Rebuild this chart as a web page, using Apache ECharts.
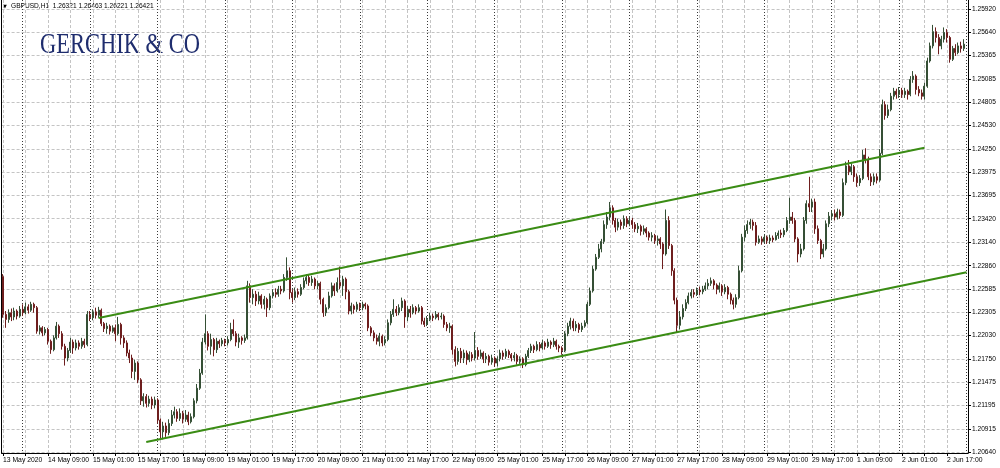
<!DOCTYPE html>
<html><head><meta charset="utf-8">
<script src="https://cdn.jsdelivr.net/npm/echarts/dist/echarts.min.js"></script>
<style>html,body{margin:0;padding:0;background:#fff}#c{width:1000px;height:468px}</style>
</head><body><div id="c"></div><script>
// trading days shown (hourly bars, weekends skipped); first bar 13 May 17:00
const tradingDays = ['13 May','14 May','15 May','18 May','19 May','20 May','21 May','22 May','25 May','26 May','27 May','28 May','29 May','1 Jun','2 Jun','3 Jun'];
const timeLabels = ['13 May 2020','14 May 09:00','15 May 01:00','15 May 17:00','18 May 09:00','19 May 01:00','19 May 17:00','20 May 09:00','21 May 01:00','21 May 17:00','22 May 09:00','25 May 01:00','25 May 17:00','26 May 09:00','27 May 01:00','27 May 17:00','28 May 09:00','29 May 01:00','29 May 17:00','1 Jun 09:00','2 Jun 01:00','2 Jun 17:00'];
const priceTicks = [1.20640,1.20915,1.21195,1.21475,1.21750,1.22030,1.22305,1.22585,1.22860,1.23140,1.23420,1.23695,1.23975,1.24250,1.24530,1.24805,1.25085,1.25365,1.25640,1.25920];
const headerText = 'GBPUSD,H1  1.26321 1.26463 1.26221 1.26421';
const logoText = 'GERCHIK & CO';

const opens = [1.2273,1.2228,1.2222,1.2230,1.2225,1.2232,1.2226,1.2234,1.2230,1.2237,
1.2233,1.2240,1.2236,1.2208,1.2212,1.2206,1.2210,1.2196,1.2186,1.2200,
1.2214,1.2205,1.2190,1.2176,1.2185,1.2195,1.2188,1.2194,1.2190,1.2196,
1.2192,1.2228,1.2224,1.2231,1.2227,1.2233,1.2217,1.2211,1.2214,1.2208,
1.2212,1.2205,1.2216,1.2200,1.2194,1.2182,1.2176,1.2160,1.2170,1.2150,
1.2125,1.2130,1.2122,1.2127,1.2120,1.2126,1.2102,1.2088,1.2095,1.2087,
1.2098,1.2108,1.2112,1.2104,1.2110,1.2103,1.2108,1.2100,1.2106,1.2125,
1.2140,1.2158,1.2195,1.2205,1.2190,1.2198,1.2186,1.2196,1.2193,1.2197,
1.2194,1.2198,1.2210,1.2205,1.2195,1.2200,1.2197,1.2200,1.2262,1.2248,
1.2252,1.2244,1.2250,1.2240,1.2246,1.2236,1.2250,1.2254,1.2252,1.2258,
1.2256,1.2272,1.2280,1.2254,1.2248,1.2255,1.2252,1.2260,1.2268,1.2272,
1.2266,1.2270,1.2262,1.2265,1.2246,1.2230,1.2236,1.2250,1.2262,1.2256,
1.2266,1.2262,1.2270,1.2255,1.2232,1.2238,1.2234,1.2240,1.2236,1.2240,
1.2238,1.2212,1.2206,1.2200,1.2196,1.2202,1.2194,1.2198,1.2218,1.2228,
1.2234,1.2230,1.2236,1.2244,1.2225,1.2234,1.2230,1.2236,1.2232,1.2236,
1.2220,1.2216,1.2222,1.2226,1.2224,1.2228,1.2225,1.2226,1.2216,1.2212,
1.2214,1.2186,1.2172,1.2184,1.2176,1.2182,1.2174,1.2180,1.2176,1.2185,
1.2178,1.2182,1.2175,1.2178,1.2171,1.2176,1.2170,1.2175,1.2182,1.2178,
1.2184,1.2180,1.2176,1.2179,1.2172,1.2175,1.2168,1.2178,1.2185,1.2190,
1.2186,1.2192,1.2188,1.2194,1.2190,1.2195,1.2192,1.2196,1.2190,1.2188,
1.2185,1.2205,1.2214,1.2220,1.2212,1.2216,1.2210,1.2214,1.2218,1.2240,
1.2256,1.2282,1.2296,1.2306,1.2315,1.2335,1.2344,1.2355,1.2340,1.2332,
1.2338,1.2334,1.2342,1.2336,1.2340,1.2335,1.2330,1.2333,1.2327,1.2330,
1.2325,1.2320,1.2322,1.2316,1.2318,1.2312,1.2300,1.2340,1.2310,1.2280,
1.2245,1.2215,1.2225,1.2235,1.2242,1.2250,1.2254,1.2252,1.2257,1.2255,
1.2258,1.2262,1.2265,1.2268,1.2263,1.2258,1.2262,1.2255,1.2260,1.2252,
1.2245,1.2240,1.2248,1.2280,1.2320,1.2328,1.2335,1.2338,1.2334,1.2314,
1.2318,1.2315,1.2320,1.2316,1.2319,1.2317,1.2322,1.2325,1.2323,1.2328,
1.2340,1.2344,1.2340,1.2318,1.2300,1.2306,1.2340,1.2360,1.2356,1.2362,
1.2330,1.2316,1.2300,1.2306,1.2336,1.2345,1.2348,1.2344,1.2350,1.2346,
1.2385,1.2405,1.2398,1.2404,1.2392,1.2385,1.2390,1.2418,1.2412,1.2392,
1.2386,1.2392,1.2388,1.2420,1.2478,1.2465,1.2472,1.2488,1.2494,1.2490,
1.2495,1.2490,1.2494,1.2490,1.2508,1.2512,1.2496,1.2492,1.2488,1.2500,
1.2530,1.2548,1.2565,1.2558,1.2548,1.2556,1.2564,1.2558,1.2532,1.2545,
1.2540,1.2548,1.2545];
const closes = [1.2228,1.2222,1.2230,1.2225,1.2232,1.2226,1.2234,1.2230,1.2237,1.2233,
1.2240,1.2236,1.2208,1.2212,1.2206,1.2210,1.2196,1.2186,1.2200,1.2214,
1.2205,1.2190,1.2176,1.2185,1.2195,1.2188,1.2194,1.2190,1.2196,1.2192,
1.2228,1.2224,1.2231,1.2227,1.2233,1.2217,1.2211,1.2214,1.2208,1.2212,
1.2205,1.2216,1.2200,1.2194,1.2182,1.2176,1.2160,1.2170,1.2150,1.2125,
1.2130,1.2122,1.2127,1.2120,1.2126,1.2102,1.2088,1.2095,1.2087,1.2098,
1.2108,1.2112,1.2104,1.2110,1.2103,1.2108,1.2100,1.2106,1.2125,1.2140,
1.2158,1.2195,1.2205,1.2190,1.2198,1.2186,1.2196,1.2193,1.2197,1.2194,
1.2198,1.2210,1.2205,1.2195,1.2200,1.2197,1.2200,1.2262,1.2248,1.2252,
1.2244,1.2250,1.2240,1.2246,1.2236,1.2250,1.2254,1.2252,1.2258,1.2256,
1.2272,1.2280,1.2254,1.2248,1.2255,1.2252,1.2260,1.2268,1.2272,1.2266,
1.2270,1.2262,1.2265,1.2246,1.2230,1.2236,1.2250,1.2262,1.2256,1.2266,
1.2262,1.2270,1.2255,1.2232,1.2238,1.2234,1.2240,1.2236,1.2240,1.2238,
1.2212,1.2206,1.2200,1.2196,1.2202,1.2194,1.2198,1.2218,1.2228,1.2234,
1.2230,1.2236,1.2244,1.2225,1.2234,1.2230,1.2236,1.2232,1.2236,1.2220,
1.2216,1.2222,1.2226,1.2224,1.2228,1.2225,1.2226,1.2216,1.2212,1.2214,
1.2186,1.2172,1.2184,1.2176,1.2182,1.2174,1.2180,1.2176,1.2185,1.2178,
1.2182,1.2175,1.2178,1.2171,1.2176,1.2170,1.2175,1.2182,1.2178,1.2184,
1.2180,1.2176,1.2179,1.2172,1.2175,1.2168,1.2178,1.2185,1.2190,1.2186,
1.2192,1.2188,1.2194,1.2190,1.2195,1.2192,1.2196,1.2190,1.2188,1.2185,
1.2205,1.2214,1.2220,1.2212,1.2216,1.2210,1.2214,1.2218,1.2240,1.2256,
1.2282,1.2296,1.2306,1.2315,1.2335,1.2344,1.2355,1.2340,1.2332,1.2338,
1.2334,1.2342,1.2336,1.2340,1.2335,1.2330,1.2333,1.2327,1.2330,1.2325,
1.2320,1.2322,1.2316,1.2318,1.2312,1.2300,1.2340,1.2310,1.2280,1.2245,
1.2215,1.2225,1.2235,1.2242,1.2250,1.2254,1.2252,1.2257,1.2255,1.2258,
1.2262,1.2265,1.2268,1.2263,1.2258,1.2262,1.2255,1.2260,1.2252,1.2245,
1.2240,1.2248,1.2280,1.2320,1.2328,1.2335,1.2338,1.2334,1.2314,1.2318,
1.2315,1.2320,1.2316,1.2319,1.2317,1.2322,1.2325,1.2323,1.2328,1.2340,
1.2344,1.2340,1.2318,1.2300,1.2306,1.2340,1.2360,1.2356,1.2362,1.2330,
1.2316,1.2300,1.2306,1.2336,1.2345,1.2348,1.2344,1.2350,1.2346,1.2385,
1.2405,1.2398,1.2404,1.2392,1.2385,1.2390,1.2418,1.2412,1.2392,1.2386,
1.2392,1.2388,1.2420,1.2478,1.2465,1.2472,1.2488,1.2494,1.2490,1.2495,
1.2490,1.2494,1.2490,1.2508,1.2512,1.2496,1.2492,1.2488,1.2500,1.2530,
1.2548,1.2565,1.2558,1.2548,1.2556,1.2564,1.2558,1.2532,1.2545,1.2540,
1.2548,1.2545,1.2550];
const lows = [1.2224,1.2212,1.2218,1.2220,1.2221,1.2222,1.2224,1.2226,1.2228,1.2229,
1.2231,1.2230,1.2205,1.2204,1.2202,1.2203,1.2192,1.2181,1.2184,1.2198,
1.2200,1.2186,1.2167,1.2172,1.2182,1.2181,1.2185,1.2186,1.2187,1.2188,
1.2190,1.2220,1.2221,1.2223,1.2224,1.2214,1.2207,1.2205,1.2204,1.2206,
1.2196,1.2203,1.2192,1.2188,1.2178,1.2170,1.2152,1.2150,1.2146,1.2120,
1.2118,1.2117,1.2118,1.2115,1.2116,1.2098,1.2080,1.2079,1.2082,1.2084,
1.2095,1.2104,1.2100,1.2101,1.2098,1.2100,1.2096,1.2098,1.2104,1.2122,
1.2138,1.2156,1.2192,1.2185,1.2180,1.2178,1.2182,1.2188,1.2190,1.2190,
1.2191,1.2196,1.2202,1.2190,1.2188,1.2192,1.2194,1.2198,1.2242,1.2240,
1.2238,1.2240,1.2235,1.2234,1.2225,1.2233,1.2247,1.2248,1.2249,1.2252,
1.2254,1.2268,1.2246,1.2242,1.2245,1.2248,1.2250,1.2258,1.2264,1.2262,
1.2262,1.2258,1.2258,1.2240,1.2225,1.2226,1.2234,1.2248,1.2250,1.2254,
1.2258,1.2250,1.2246,1.2228,1.2228,1.2229,1.2231,1.2232,1.2233,1.2234,
1.2208,1.2202,1.2196,1.2192,1.2190,1.2190,1.2191,1.2196,1.2215,1.2225,
1.2226,1.2227,1.2232,1.2212,1.2220,1.2224,1.2228,1.2228,1.2230,1.2216,
1.2213,1.2214,1.2220,1.2220,1.2222,1.2221,1.2222,1.2212,1.2208,1.2206,
1.2180,1.2166,1.2168,1.2170,1.2170,1.2168,1.2171,1.2172,1.2173,1.2174,
1.2175,1.2170,1.2170,1.2167,1.2168,1.2166,1.2166,1.2172,1.2174,1.2175,
1.2176,1.2172,1.2172,1.2168,1.2169,1.2164,1.2166,1.2176,1.2182,1.2182,
1.2184,1.2184,1.2186,1.2186,1.2188,1.2187,1.2189,1.2186,1.2183,1.2180,
1.2183,1.2202,1.2210,1.2208,1.2208,1.2206,1.2207,1.2212,1.2216,1.2238,
1.2254,1.2280,1.2294,1.2302,1.2312,1.2330,1.2340,1.2335,1.2326,1.2328,
1.2329,1.2330,1.2332,1.2333,1.2330,1.2326,1.2325,1.2322,1.2323,1.2320,
1.2316,1.2315,1.2312,1.2310,1.2306,1.2282,1.2298,1.2306,1.2274,1.2240,
1.2206,1.2210,1.2222,1.2232,1.2240,1.2247,1.2248,1.2250,1.2251,1.2252,
1.2256,1.2258,1.2262,1.2258,1.2252,1.2254,1.2250,1.2252,1.2246,1.2240,
1.2234,1.2236,1.2246,1.2278,1.2315,1.2324,1.2330,1.2328,1.2310,1.2312,
1.2311,1.2313,1.2312,1.2312,1.2314,1.2316,1.2318,1.2319,1.2320,1.2326,
1.2336,1.2336,1.2314,1.2290,1.2296,1.2304,1.2336,1.2350,1.2350,1.2324,
1.2312,1.2294,1.2296,1.2304,1.2332,1.2340,1.2340,1.2341,1.2342,1.2344,
1.2382,1.2394,1.2394,1.2386,1.2380,1.2381,1.2388,1.2408,1.2388,1.2381,
1.2382,1.2384,1.2386,1.2418,1.2460,1.2462,1.2470,1.2484,1.2485,1.2486,
1.2486,1.2486,1.2484,1.2488,1.2504,1.2490,1.2488,1.2484,1.2484,1.2498,
1.2528,1.2545,1.2552,1.2538,1.2544,1.2552,1.2552,1.2528,1.2530,1.2536,
1.2538,1.2540,1.2542];
const highs = [1.2276,1.2232,1.2234,1.2235,1.2236,1.2234,1.2238,1.2240,1.2242,1.2240,
1.2243,1.2242,1.2238,1.2215,1.2214,1.2213,1.2212,1.2198,1.2203,1.2219,
1.2216,1.2208,1.2193,1.2188,1.2200,1.2198,1.2198,1.2197,1.2200,1.2199,
1.2232,1.2232,1.2234,1.2236,1.2237,1.2235,1.2219,1.2218,1.2216,1.2215,
1.2216,1.2225,1.2218,1.2203,1.2197,1.2186,1.2180,1.2174,1.2172,1.2152,
1.2134,1.2133,1.2131,1.2130,1.2130,1.2128,1.2104,1.2100,1.2099,1.2103,
1.2114,1.2118,1.2115,1.2116,1.2113,1.2114,1.2112,1.2110,1.2128,1.2145,
1.2163,1.2200,1.2228,1.2208,1.2205,1.2200,1.2200,1.2198,1.2200,1.2199,
1.2202,1.2218,1.2222,1.2208,1.2205,1.2202,1.2204,1.2268,1.2265,1.2258,
1.2256,1.2255,1.2252,1.2250,1.2248,1.2253,1.2258,1.2259,1.2262,1.2262,
1.2276,1.2296,1.2284,1.2258,1.2260,1.2259,1.2264,1.2272,1.2276,1.2275,
1.2274,1.2272,1.2268,1.2267,1.2248,1.2240,1.2255,1.2266,1.2265,1.2272,
1.2285,1.2274,1.2272,1.2257,1.2242,1.2240,1.2243,1.2242,1.2243,1.2242,
1.2240,1.2214,1.2209,1.2204,1.2206,1.2204,1.2202,1.2222,1.2232,1.2246,
1.2238,1.2240,1.2248,1.2246,1.2238,1.2238,1.2240,1.2238,1.2240,1.2238,
1.2224,1.2226,1.2230,1.2229,1.2232,1.2230,1.2230,1.2228,1.2219,1.2218,
1.2216,1.2190,1.2188,1.2188,1.2186,1.2185,1.2184,1.2183,1.2207,1.2189,
1.2186,1.2184,1.2182,1.2180,1.2180,1.2178,1.2178,1.2186,1.2185,1.2187,
1.2186,1.2182,1.2183,1.2181,1.2178,1.2177,1.2181,1.2188,1.2193,1.2192,
1.2196,1.2195,1.2198,1.2196,1.2199,1.2197,1.2200,1.2198,1.2192,1.2190,
1.2208,1.2218,1.2224,1.2223,1.2220,1.2218,1.2218,1.2221,1.2243,1.2260,
1.2286,1.2300,1.2312,1.2318,1.2340,1.2350,1.2362,1.2358,1.2343,1.2342,
1.2341,1.2346,1.2345,1.2344,1.2343,1.2338,1.2337,1.2335,1.2334,1.2332,
1.2327,1.2326,1.2324,1.2322,1.2320,1.2314,1.2353,1.2345,1.2312,1.2283,
1.2248,1.2232,1.2240,1.2246,1.2254,1.2258,1.2258,1.2260,1.2261,1.2262,
1.2266,1.2270,1.2272,1.2270,1.2265,1.2266,1.2264,1.2264,1.2262,1.2254,
1.2248,1.2252,1.2286,1.2324,1.2334,1.2340,1.2342,1.2341,1.2338,1.2322,
1.2321,1.2323,1.2322,1.2323,1.2322,1.2326,1.2328,1.2329,1.2331,1.2344,
1.2367,1.2350,1.2343,1.2320,1.2312,1.2344,1.2364,1.2392,1.2366,1.2366,
1.2334,1.2318,1.2312,1.2340,1.2350,1.2352,1.2353,1.2354,1.2353,1.2390,
1.2410,1.2412,1.2408,1.2406,1.2396,1.2394,1.2424,1.2426,1.2416,1.2396,
1.2396,1.2396,1.2425,1.2484,1.2482,1.2478,1.2492,1.2498,1.2497,1.2499,
1.2498,1.2498,1.2496,1.2512,1.2518,1.2514,1.2500,1.2496,1.2504,1.2534,
1.2552,1.2573,1.2570,1.2562,1.2560,1.2570,1.2568,1.2560,1.2548,1.2550,
1.2552,1.2553,1.2556];

// channel lines (time, price)
const upperChannel = [['15 May 03:00', 1.22237], ['2 Jun 09:00', 1.24267]];
const lowerChannel = [['15 May 20:00', 1.20759], ['3 Jun 00:00', 1.22782]];

// build hourly category list
const categories = [];
tradingDays.forEach((d, di) => {
  const start = di === 0 ? 17 : 0;
  const end = di === tradingDays.length - 1 ? 0 : 23;
  for (let h = start; h <= end; h++) categories.push(d + ' ' + String(h).padStart(2, '0') + ':00');
});
const candles = closes.map((c, i) => [opens[i], c, lows[i], highs[i]]);

const yMin = 1.20628, yMax = 1.26027;
const FONT = '"Liberation Sans", Arial, sans-serif';

const chart = echarts.init(document.getElementById('c'), null, {renderer: 'canvas'});
chart.setOption({
  animation: false,
  backgroundColor: '#ffffff',
  grid: {left: 0, right: 32, top: 0, bottom: 15, containLabel: false},
  graphic: [
    {type: 'text', left: 3, top: 4, style: {text: '\u25BC', font: '5px "DejaVu Sans"', fill: '#000'}},
    {type: 'text', left: 11, top: 3, style: {text: headerText, font: '6.6px ' + FONT, fill: '#000'}},
    {type: 'text', left: 40, top: 30, scaleX: 0.75, style: {text: logoText, font: '30px "Liberation Serif", serif', fill: '#1f2d6e'}}
  ],
  xAxis: [{
    type: 'category', data: categories, boundaryGap: true, position: 'bottom',
    axisLine: {show: true, lineStyle: {color: '#000', width: 1}},
    axisTick: {show: true, alignWithLabel: true, interval: (i) => i % 8 === 0, length: 3, lineStyle: {color: '#000'}},
    axisLabel: {
      interval: (i) => i % 16 === 0, showMaxLabel: true, showMinLabel: true,
      formatter: (v, i) => (i % 16 === 0 && timeLabels[i / 16]) ? timeLabels[i / 16] : '',
      align: 'left', fontSize: 6.8, color: '#000', margin: 4, fontFamily: FONT
    },
    splitLine: {show: true, interval: (i) => i % 8 === 0, alignWithLabel: true, lineStyle: {color: '#c4c4c4', type: [3, 2], width: 1}}
  }, {
    type: 'category', data: categories, boundaryGap: true, position: 'bottom',
    axisLine: {show: false}, axisTick: {show: false}, axisLabel: {show: false},
    splitLine: {show: true, interval: (i) => categories[i].endsWith(' 00:00'), alignWithLabel: true, lineStyle: {color: '#3a3a3a', type: [1, 2], width: 1}}
  }],
  yAxis: [{
    type: 'value', position: 'right', min: yMin, max: yMax,
    axisLine: {show: true, lineStyle: {color: '#000', width: 1}},
    axisTick: {show: true, customValues: priceTicks, length: 3, lineStyle: {color: '#000'}},
    axisLabel: {customValues: priceTicks, formatter: (v) => v.toFixed(5), fontSize: 6.6, color: '#000', margin: 4, fontFamily: FONT},
    splitLine: {show: true, lineStyle: {color: '#c4c4c4', type: [3, 2], width: 1}}
  }, {
    type: 'value', position: 'left', min: yMin, max: yMax,
    axisLine: {show: true, lineStyle: {color: '#000', width: 1}},
    axisTick: {show: false}, axisLabel: {show: false}, splitLine: {show: false}
  }],
  series: [{
    type: 'candlestick', name: 'GBPUSD', data: candles, xAxisIndex: 0, yAxisIndex: 0,
    barWidth: 1.5,
    itemStyle: {color: '#1f4a1f', color0: '#7e1414', borderColor: '#354f35', borderColor0: '#6e1e1e', borderWidth: 1},
    z: 3
  }, {
    type: 'line', name: 'upper', data: upperChannel, symbol: 'none', xAxisIndex: 0, yAxisIndex: 0,
    lineStyle: {color: '#3a8c14', width: 2}, z: 5
  }, {
    type: 'line', name: 'lower', data: lowerChannel, symbol: 'none', xAxisIndex: 0, yAxisIndex: 0,
    lineStyle: {color: '#3a8c14', width: 2}, z: 5
  }]
});
</script></body></html>
